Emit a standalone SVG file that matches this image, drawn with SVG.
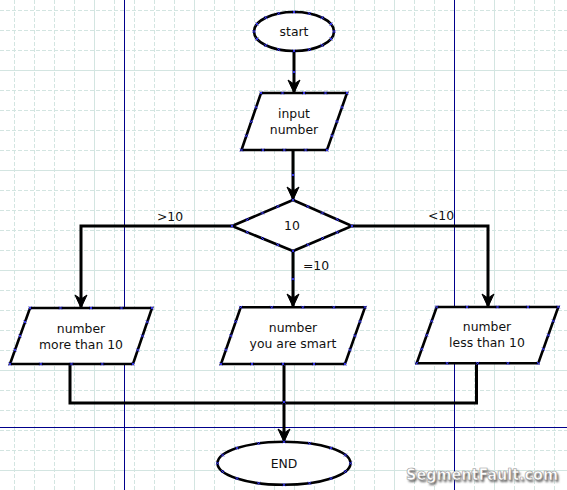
<svg xmlns="http://www.w3.org/2000/svg" xmlns:xlink="http://www.w3.org/1999/xlink" width="567" height="490" viewBox="0 0 567 490">
<style>
.minor{stroke:#d3e5e1;stroke-width:1;stroke-dasharray:4 2;fill:none}
.major{stroke:#d3e5e1;stroke-width:1;fill:none}
.guide{stroke:#00008b;stroke-width:1;fill:none}
.shape{fill:#fff;stroke:#000;stroke-width:2.6;stroke-linejoin:miter}
.conn{fill:none;stroke:#000;stroke-width:3}
.lbl{font-family:"DejaVu Sans","Liberation Sans",sans-serif;font-size:12.4px;fill:#111;text-anchor:middle}
.cp{stroke:#3838ff;stroke-width:0.9;fill:none}
.wm{font-family:"DejaVu Sans","Liberation Sans",sans-serif;font-weight:bold;font-size:16px;font-stretch:condensed;text-anchor:end}
</style>
<defs>
<marker id="arr" markerUnits="userSpaceOnUse" viewBox="-14 -7 15 14" refX="0" refY="0" markerWidth="15" markerHeight="14" orient="auto">
<path d="M0,0 L-13,-6 L-9,0 L-13,6 Z" fill="#000" stroke="#000" stroke-width="1"/>
</marker>
<path id="x" d="M-1.5,-1.5 L1.5,1.5 M-1.5,1.5 L1.5,-1.5" class="cp"/>
<filter id="blur" x="-5%" y="-30%" width="110%" height="160%"><feGaussianBlur stdDeviation="1"/></filter>
</defs>
<rect width="567" height="490" fill="#fff"/>
<g id="grid">
<path class="minor" d="M14.5,0V490M34.5,0V490M54.5,0V490M74.5,0V490M114.5,0V490M134.5,0V490M154.5,0V490M174.5,0V490M214.5,0V490M234.5,0V490M254.5,0V490M274.5,0V490M314.5,0V490M334.5,0V490M354.5,0V490M374.5,0V490M414.5,0V490M434.5,0V490M474.5,0V490M514.5,0V490M534.5,0V490M554.5,0V490"/>
<path class="minor" d="M0,10.5H567M0,30.5H567M0,50.5H567M0,90.5H567M0,110.5H567M0,130.5H567M0,150.5H567M0,190.5H567M0,210.5H567M0,230.5H567M0,250.5H567M0,290.5H567M0,310.5H567M0,330.5H567M0,350.5H567M0,390.5H567M0,410.5H567M0,430.5H567M0,450.5H567"/>
<path class="major" d="M94.5,0V490M194.5,0V490M294.5,0V490M394.5,0V490M494.5,0V490M0,70.5H567M0,170.5H567M0,270.5H567M0,370.5H567M0,470.5H567"/>
<path class="guide" d="M124.5,0V490M454.5,0V490M0,427.5H567"/>
</g>
<g id="connectors">
<path class="conn" d="M294,51V93" marker-end="url(#arr)"/>
<path class="conn" d="M293,150V200" marker-end="url(#arr)"/>
<path class="conn" d="M232,226H81V308" marker-end="url(#arr)"/>
<path class="conn" d="M293,251V307" marker-end="url(#arr)"/>
<path class="conn" d="M352,226H488V307" marker-end="url(#arr)"/>
<path class="conn" d="M70,364V403H284"/>
<path class="conn" d="M476.5,363V403H284"/>
<path class="conn" d="M284,364V442" marker-end="url(#arr)"/>
<text class="lbl" x="170" y="221">&gt;10</text>
<text class="lbl" x="441" y="220">&lt;10</text>
<text class="lbl" x="316" y="270">=10</text>
<use xlink:href="#x" x="294" y="72"/>
<use xlink:href="#x" x="293" y="175"/>
<use xlink:href="#x" x="293" y="279"/>
<use xlink:href="#x" x="284" y="402"/>
</g>
<g id="start">
<ellipse class="shape" cx="294" cy="31.5" rx="40" ry="19.5"/>
<text class="lbl" x="294" y="36">start</text>
<use xlink:href="#x" x="334" y="31.5"/><use xlink:href="#x" x="331" y="39"/><use xlink:href="#x" x="322.3" y="45.3"/><use xlink:href="#x" x="309.3" y="49.5"/><use xlink:href="#x" x="294" y="51"/><use xlink:href="#x" x="278.7" y="49.5"/><use xlink:href="#x" x="265.7" y="45.3"/><use xlink:href="#x" x="257" y="39"/><use xlink:href="#x" x="254" y="31.5"/><use xlink:href="#x" x="257" y="24"/><use xlink:href="#x" x="265.7" y="17.7"/><use xlink:href="#x" x="278.7" y="13.5"/><use xlink:href="#x" x="294" y="12"/><use xlink:href="#x" x="309.3" y="13.5"/><use xlink:href="#x" x="322.3" y="17.7"/><use xlink:href="#x" x="331" y="24"/>
</g>
<g id="input">
<polygon class="shape" points="261,93 347,93 327,150 241.5,150"/>
<text class="lbl" x="294" y="118">input</text>
<text class="lbl" x="294" y="134">number</text>
<use xlink:href="#x" x="261" y="93"/><use xlink:href="#x" x="282.5" y="93"/><use xlink:href="#x" x="304" y="93"/><use xlink:href="#x" x="325.5" y="93"/><use xlink:href="#x" x="347" y="93"/><use xlink:href="#x" x="342" y="107.3"/><use xlink:href="#x" x="337" y="121.5"/><use xlink:href="#x" x="332" y="135.8"/><use xlink:href="#x" x="241.5" y="150"/><use xlink:href="#x" x="262.9" y="150"/><use xlink:href="#x" x="284.3" y="150"/><use xlink:href="#x" x="305.6" y="150"/><use xlink:href="#x" x="327" y="150"/><use xlink:href="#x" x="246.4" y="135.8"/><use xlink:href="#x" x="251.3" y="121.5"/><use xlink:href="#x" x="256.1" y="107.3"/>
</g>
<g id="decision">
<polygon class="shape" points="293,200 352,226 293,251 232,226"/>
<text class="lbl" x="292" y="230">10</text>
<use xlink:href="#x" x="293" y="200"/><use xlink:href="#x" x="307.8" y="206.5"/><use xlink:href="#x" x="322.5" y="213"/><use xlink:href="#x" x="337.3" y="219.5"/><use xlink:href="#x" x="352" y="226"/><use xlink:href="#x" x="337.3" y="232.3"/><use xlink:href="#x" x="322.5" y="238.5"/><use xlink:href="#x" x="307.8" y="244.8"/><use xlink:href="#x" x="293" y="251"/><use xlink:href="#x" x="277.8" y="244.8"/><use xlink:href="#x" x="262.5" y="238.5"/><use xlink:href="#x" x="247.3" y="232.3"/><use xlink:href="#x" x="232" y="226"/><use xlink:href="#x" x="247.3" y="219.5"/><use xlink:href="#x" x="262.5" y="213"/><use xlink:href="#x" x="277.8" y="206.5"/>
</g>
<g id="more">
<polygon class="shape" points="30,308 152,308 133,364 10,364"/>
<text class="lbl" x="81" y="333">number</text>
<text class="lbl" x="81" y="349">more than 10</text>
<use xlink:href="#x" x="30" y="308"/><use xlink:href="#x" x="60.5" y="308"/><use xlink:href="#x" x="91" y="308"/><use xlink:href="#x" x="121.5" y="308"/><use xlink:href="#x" x="152" y="308"/><use xlink:href="#x" x="147.3" y="322"/><use xlink:href="#x" x="142.5" y="336"/><use xlink:href="#x" x="137.8" y="350"/><use xlink:href="#x" x="10" y="364"/><use xlink:href="#x" x="40.8" y="364"/><use xlink:href="#x" x="71.5" y="364"/><use xlink:href="#x" x="102.3" y="364"/><use xlink:href="#x" x="133" y="364"/><use xlink:href="#x" x="15" y="350"/><use xlink:href="#x" x="20" y="336"/><use xlink:href="#x" x="25" y="322"/>
</g>
<g id="equal">
<polygon class="shape" points="240.7,307.3 365,307.3 345,364 221,364"/>
<text class="lbl" x="293" y="332">number</text>
<text class="lbl" x="293" y="348">you are smart</text>
<use xlink:href="#x" x="240.7" y="307.3"/><use xlink:href="#x" x="271.8" y="307.3"/><use xlink:href="#x" x="302.9" y="307.3"/><use xlink:href="#x" x="333.9" y="307.3"/><use xlink:href="#x" x="365" y="307.3"/><use xlink:href="#x" x="360" y="321.5"/><use xlink:href="#x" x="355" y="335.7"/><use xlink:href="#x" x="350" y="349.8"/><use xlink:href="#x" x="221" y="364"/><use xlink:href="#x" x="252" y="364"/><use xlink:href="#x" x="283" y="364"/><use xlink:href="#x" x="314" y="364"/><use xlink:href="#x" x="345" y="364"/><use xlink:href="#x" x="226" y="349.8"/><use xlink:href="#x" x="230.9" y="335.7"/><use xlink:href="#x" x="235.7" y="321.5"/>
</g>
<g id="less">
<polygon class="shape" points="436.7,307 558.3,307 538.3,363.3 416.7,363.3"/>
<text class="lbl" x="487" y="331">number</text>
<text class="lbl" x="487" y="347">less than 10</text>
<use xlink:href="#x" x="436.7" y="307"/><use xlink:href="#x" x="467.1" y="307"/><use xlink:href="#x" x="497.5" y="307"/><use xlink:href="#x" x="527.9" y="307"/><use xlink:href="#x" x="558.3" y="307"/><use xlink:href="#x" x="553.3" y="321.1"/><use xlink:href="#x" x="548.3" y="335.2"/><use xlink:href="#x" x="543.3" y="349.2"/><use xlink:href="#x" x="416.7" y="363.3"/><use xlink:href="#x" x="447.1" y="363.3"/><use xlink:href="#x" x="477.5" y="363.3"/><use xlink:href="#x" x="507.9" y="363.3"/><use xlink:href="#x" x="538.3" y="363.3"/><use xlink:href="#x" x="421.7" y="349.2"/><use xlink:href="#x" x="426.7" y="335.2"/><use xlink:href="#x" x="431.7" y="321.1"/>
</g>
<g id="end">
<ellipse class="shape" cx="284" cy="463.3" rx="66.5" ry="21.5"/>
<text class="lbl" x="284" y="467.5">END</text>
<use xlink:href="#x" x="350.5" y="463.3"/><use xlink:href="#x" x="345.4" y="471.5"/><use xlink:href="#x" x="331" y="478.5"/><use xlink:href="#x" x="309.5" y="483.2"/><use xlink:href="#x" x="284" y="484.8"/><use xlink:href="#x" x="258.6" y="483.2"/><use xlink:href="#x" x="237" y="478.5"/><use xlink:href="#x" x="222.6" y="471.5"/><use xlink:href="#x" x="217.5" y="463.3"/><use xlink:href="#x" x="222.6" y="455.1"/><use xlink:href="#x" x="237" y="448.1"/><use xlink:href="#x" x="258.6" y="443.4"/><use xlink:href="#x" x="284" y="441.8"/><use xlink:href="#x" x="309.5" y="443.4"/><use xlink:href="#x" x="331" y="448.1"/><use xlink:href="#x" x="345.4" y="455.1"/>
</g>
<g id="watermark">
<text class="wm" x="559.5" y="481.5" fill="#555" filter="url(#blur)">SegmentFault.com</text>
<text class="wm" x="558" y="480" fill="#fff" stroke="#9a9a9a" stroke-width="0.6">SegmentFault.com</text>
</g>
</svg>
